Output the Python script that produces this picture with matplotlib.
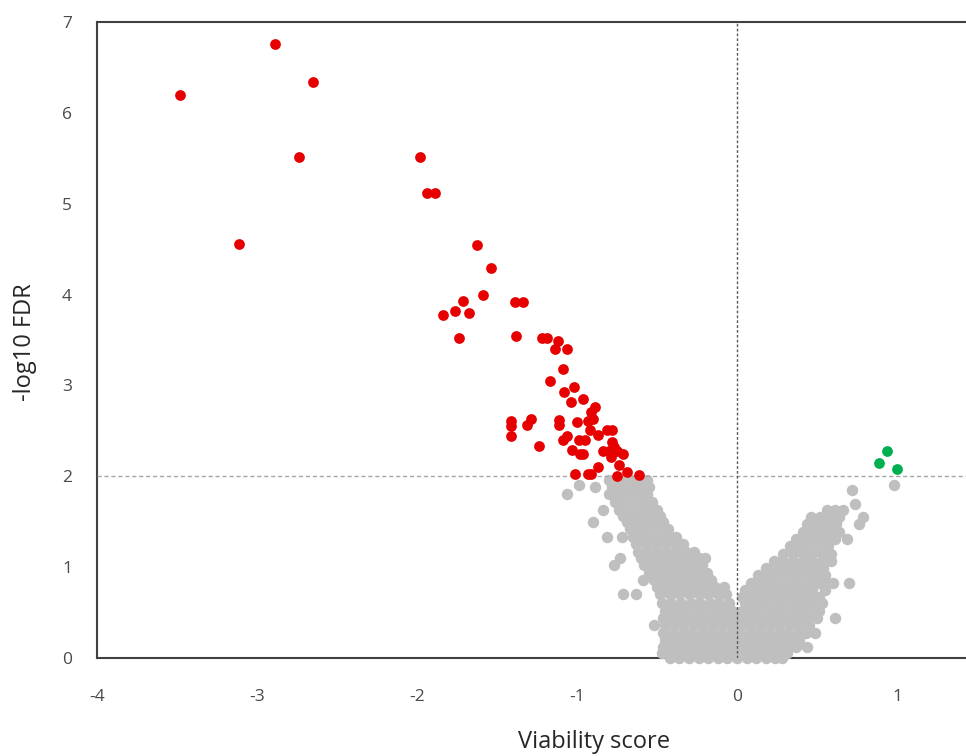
import matplotlib
matplotlib.use("Agg")
import matplotlib.pyplot as plt

plt.rcParams['font.family'] = ['Open Sans', 'DejaVu Sans']
plt.rcParams['axes.unicode_minus'] = False

# genes below FDR threshold, negative score (red)
red_points = [
    (-3.48, 6.20), (-2.89, 6.76), (-2.65, 6.34), (-2.74, 5.51), (-3.11, 4.56),
    (-1.98, 5.51), (-1.94, 5.12), (-1.89, 5.12),
    (-1.625, 4.55), (-1.54, 4.29), (-1.59, 4.00), (-1.71, 3.93), (-1.76, 3.82),
    (-1.675, 3.80), (-1.84, 3.78), (-1.74, 3.52), (-1.39, 3.92), (-1.34, 3.92),
    (-1.38, 3.54), (-1.22, 3.52), (-1.19, 3.52), (-1.12, 3.49), (-1.14, 3.40),
    (-1.06, 3.40), (-1.09, 3.18), (-1.17, 3.05), (-1.02, 2.98), (-1.08, 2.93),
    (-0.96, 2.85), (-1.04, 2.82), (-0.89, 2.76), (-0.91, 2.71),
    (-1.41, 2.61), (-1.41, 2.55), (-1.41, 2.44), (-1.29, 2.63), (-1.31, 2.56),
    (-1.11, 2.62), (-1.11, 2.56), (-1.00, 2.60), (-0.93, 2.61), (-0.90, 2.63),
    (-0.92, 2.51), (-0.87, 2.45), (-0.81, 2.51), (-0.78, 2.51), (-1.06, 2.44),
    (-1.09, 2.40), (-0.99, 2.40), (-0.95, 2.40), (-1.24, 2.33), (-0.78, 2.38),
    (-0.77, 2.32), (-0.84, 2.28), (-0.80, 2.28), (-0.75, 2.28), (-0.71, 2.25),
    (-1.03, 2.29), (-0.98, 2.25), (-0.96, 2.25), (-0.79, 2.21), (-0.74, 2.12),
    (-0.87, 2.10), (-1.01, 2.03), (-0.93, 2.03), (-0.91, 2.03), (-0.75, 2.00),
    (-0.69, 2.05), (-0.61, 2.01),
]

# positive score, above threshold (green)
green_points = [(0.94, 2.28), (0.89, 2.15), (1.00, 2.08)]

# non-significant cloud (grey), read row by row: (y, [x ...])
gray_rows = [
    (1.90, [0.98]),
    (1.85, [0.72]),
    (1.70, [0.74]),
    (1.96, [-0.80, -0.73, -0.66, -0.60, -0.56]),
    (1.90, [-0.99]),
    (1.88, [-0.89, -0.78, -0.71, -0.65, -0.60, -0.55]),
    (1.80, [-1.06, -0.80, -0.74, -0.68, -0.62, -0.56]),
    (1.72, [-0.76, -0.70, -0.64, -0.58, -0.53]),
    (1.63, [-0.84, -0.74, -0.68, -0.62, -0.56, -0.50]),
    (1.56, [-0.71, -0.65, -0.59, -0.53, -0.48]),
    (1.50, [-0.90, -0.69, -0.63, -0.57, -0.51, -0.46]),
    (1.42, [-0.67, -0.61, -0.55, -0.49, -0.43]),
    (1.33, [-0.81, -0.72, -0.65, -0.59, -0.53, -0.47, -0.41, -0.38]),
    (1.25, [-0.63, -0.57, -0.51, -0.45, -0.39, -0.34]),
    (1.17, [-0.62, -0.56, -0.50, -0.44, -0.38, -0.32, -0.27]),
    (1.10, [-0.73, -0.60, -0.54, -0.48, -0.42, -0.36, -0.30, -0.24, -0.20]),
    (1.02, [-0.77, -0.58, -0.52, -0.46, -0.40, -0.34, -0.28, -0.22]),
    (0.94, [-0.55, -0.49, -0.43, -0.37, -0.31, -0.25, -0.19]),
    (0.86, [-0.59, -0.52, -0.46, -0.40, -0.34, -0.28, -0.22, -0.16]),
    (0.78, [-0.50, -0.44, -0.38, -0.32, -0.26, -0.20, -0.14, -0.08]),
    (0.70, [-0.71, -0.63, -0.48, -0.42, -0.36, -0.30, -0.24, -0.18, -0.12, -0.07]),
    (1.63, [0.56, 0.61, 0.66]),
    (1.55, [0.46, 0.52, 0.58, 0.64, 0.79]),
    (1.47, [0.44, 0.50, 0.56, 0.62, 0.76]),
    (1.39, [0.41, 0.47, 0.53, 0.59, 0.64]),
    (1.31, [0.37, 0.43, 0.49, 0.55, 0.61, 0.69]),
    (1.23, [0.33, 0.39, 0.45, 0.51, 0.57]),
    (1.15, [0.29, 0.35, 0.41, 0.47, 0.53, 0.59]),
    (1.07, [0.23, 0.29, 0.35, 0.41, 0.47, 0.53, 0.59]),
    (0.99, [0.18, 0.24, 0.30, 0.36, 0.42, 0.48, 0.54]),
    (0.91, [0.13, 0.19, 0.25, 0.31, 0.37, 0.43, 0.49, 0.55]),
    (0.83, [0.09, 0.15, 0.21, 0.27, 0.33, 0.39, 0.45, 0.51, 0.57, 0.60, 0.70]),
    (0.75, [0.05, 0.11, 0.17, 0.23, 0.29, 0.35, 0.41, 0.47, 0.55]),
    (0.67, [0.03, 0.09, 0.15, 0.21, 0.27, 0.33, 0.39, 0.45, 0.51]),
    (0.60, [-0.47, -0.41, -0.35, -0.29, -0.23, -0.17, -0.11, -0.05, 0.05, 0.11,
            0.17, 0.23, 0.29, 0.35, 0.41, 0.47, 0.53]),
    (0.52, [-0.45, -0.39, -0.33, -0.27, -0.21, -0.15, -0.09, -0.03, 0.03, 0.09,
            0.15, 0.21, 0.27, 0.33, 0.39, 0.45, 0.51]),
    (0.44, [-0.46, -0.40, -0.34, -0.28, -0.22, -0.16, -0.10, -0.04, 0.02, 0.08,
            0.14, 0.20, 0.26, 0.32, 0.38, 0.44, 0.50, 0.61]),
    (0.36, [-0.52, -0.45, -0.39, -0.33, -0.27, -0.21, -0.15, -0.09, -0.03, 0.03,
            0.09, 0.15, 0.21, 0.27, 0.33, 0.39, 0.45]),
    (0.28, [-0.46, -0.40, -0.34, -0.28, -0.22, -0.16, -0.10, -0.04, 0.02, 0.08,
            0.14, 0.20, 0.26, 0.32, 0.38, 0.43, 0.49]),
    (0.20, [-0.45, -0.39, -0.33, -0.27, -0.21, -0.15, -0.09, -0.03, 0.03, 0.09,
            0.15, 0.21, 0.27, 0.33, 0.39]),
    (0.12, [-0.46, -0.40, -0.34, -0.28, -0.22, -0.16, -0.10, -0.04, 0.02, 0.08,
            0.14, 0.20, 0.26, 0.32, 0.37, 0.44]),
    (0.05, [-0.47, -0.41, -0.35, -0.29, -0.23, -0.17, -0.11, -0.05, 0.01, 0.07,
            0.13, 0.19, 0.25, 0.31]),
    (0.00, [-0.42, -0.36, -0.30, -0.24, -0.18, -0.12, -0.06, 0.00, 0.06, 0.12,
            0.18, 0.24, 0.28]),
]

x_ticks = [-4, -3, -2, -1, 0, 1]
y_ticks = [0, 1, 2, 3, 4, 5, 6, 7]
fdr_cut = 2
x_label = "Viability score"
y_label = "-log10 FDR"

gray_x = [x for y, xs in gray_rows for x in xs]
gray_y = [y for y, xs in gray_rows for x in xs]

fig = plt.figure(figsize=(9.66, 7.56), dpi=100)
ax = fig.add_axes([97 / 966, 1 - 658 / 756, 1 - 97 / 966, 636 / 756])

ax.scatter(gray_x, gray_y, s=68, color="#BFBFBF", linewidths=0, zorder=3, clip_on=False)
ax.scatter([p[0] for p in red_points], [p[1] for p in red_points], s=60,
           color="#E60000", linewidths=0, zorder=5)
ax.scatter([p[0] for p in green_points], [p[1] for p in green_points], s=60,
           color="#00B050", linewidths=0, zorder=5)

ax.axhline(fdr_cut, color="#A6A6A6", lw=1, ls=(0, (3, 2)), zorder=4)
ax.axvline(0, color="#595959", lw=1, ls=(0, (2, 1.5)), zorder=4)

ax.set_xlim(-4, (966 - 97) / 160 - 4)
ax.set_ylim(0, 7)
ax.set_xticks(x_ticks)
ax.set_yticks(y_ticks)
ax.tick_params(axis="both", length=0, labelsize=12.5, labelcolor="#4A4A4A")
ax.tick_params(axis="x", pad=22)
ax.tick_params(axis="y", pad=18)

ax.spines["right"].set_visible(False)
for s in ["left", "top", "bottom"]:
    ax.spines[s].set_color("#404040")
    ax.spines[s].set_linewidth(1.5)

fig.text(594 / 966, 1 - 742 / 756, x_label, ha="center", va="center", fontsize=17, color="#262626")
fig.text(25 / 966, 1 - 342 / 756, y_label, ha="center", va="center", rotation=90,
         fontsize=17, color="#262626")

fig.savefig("out.png", dpi=100)
